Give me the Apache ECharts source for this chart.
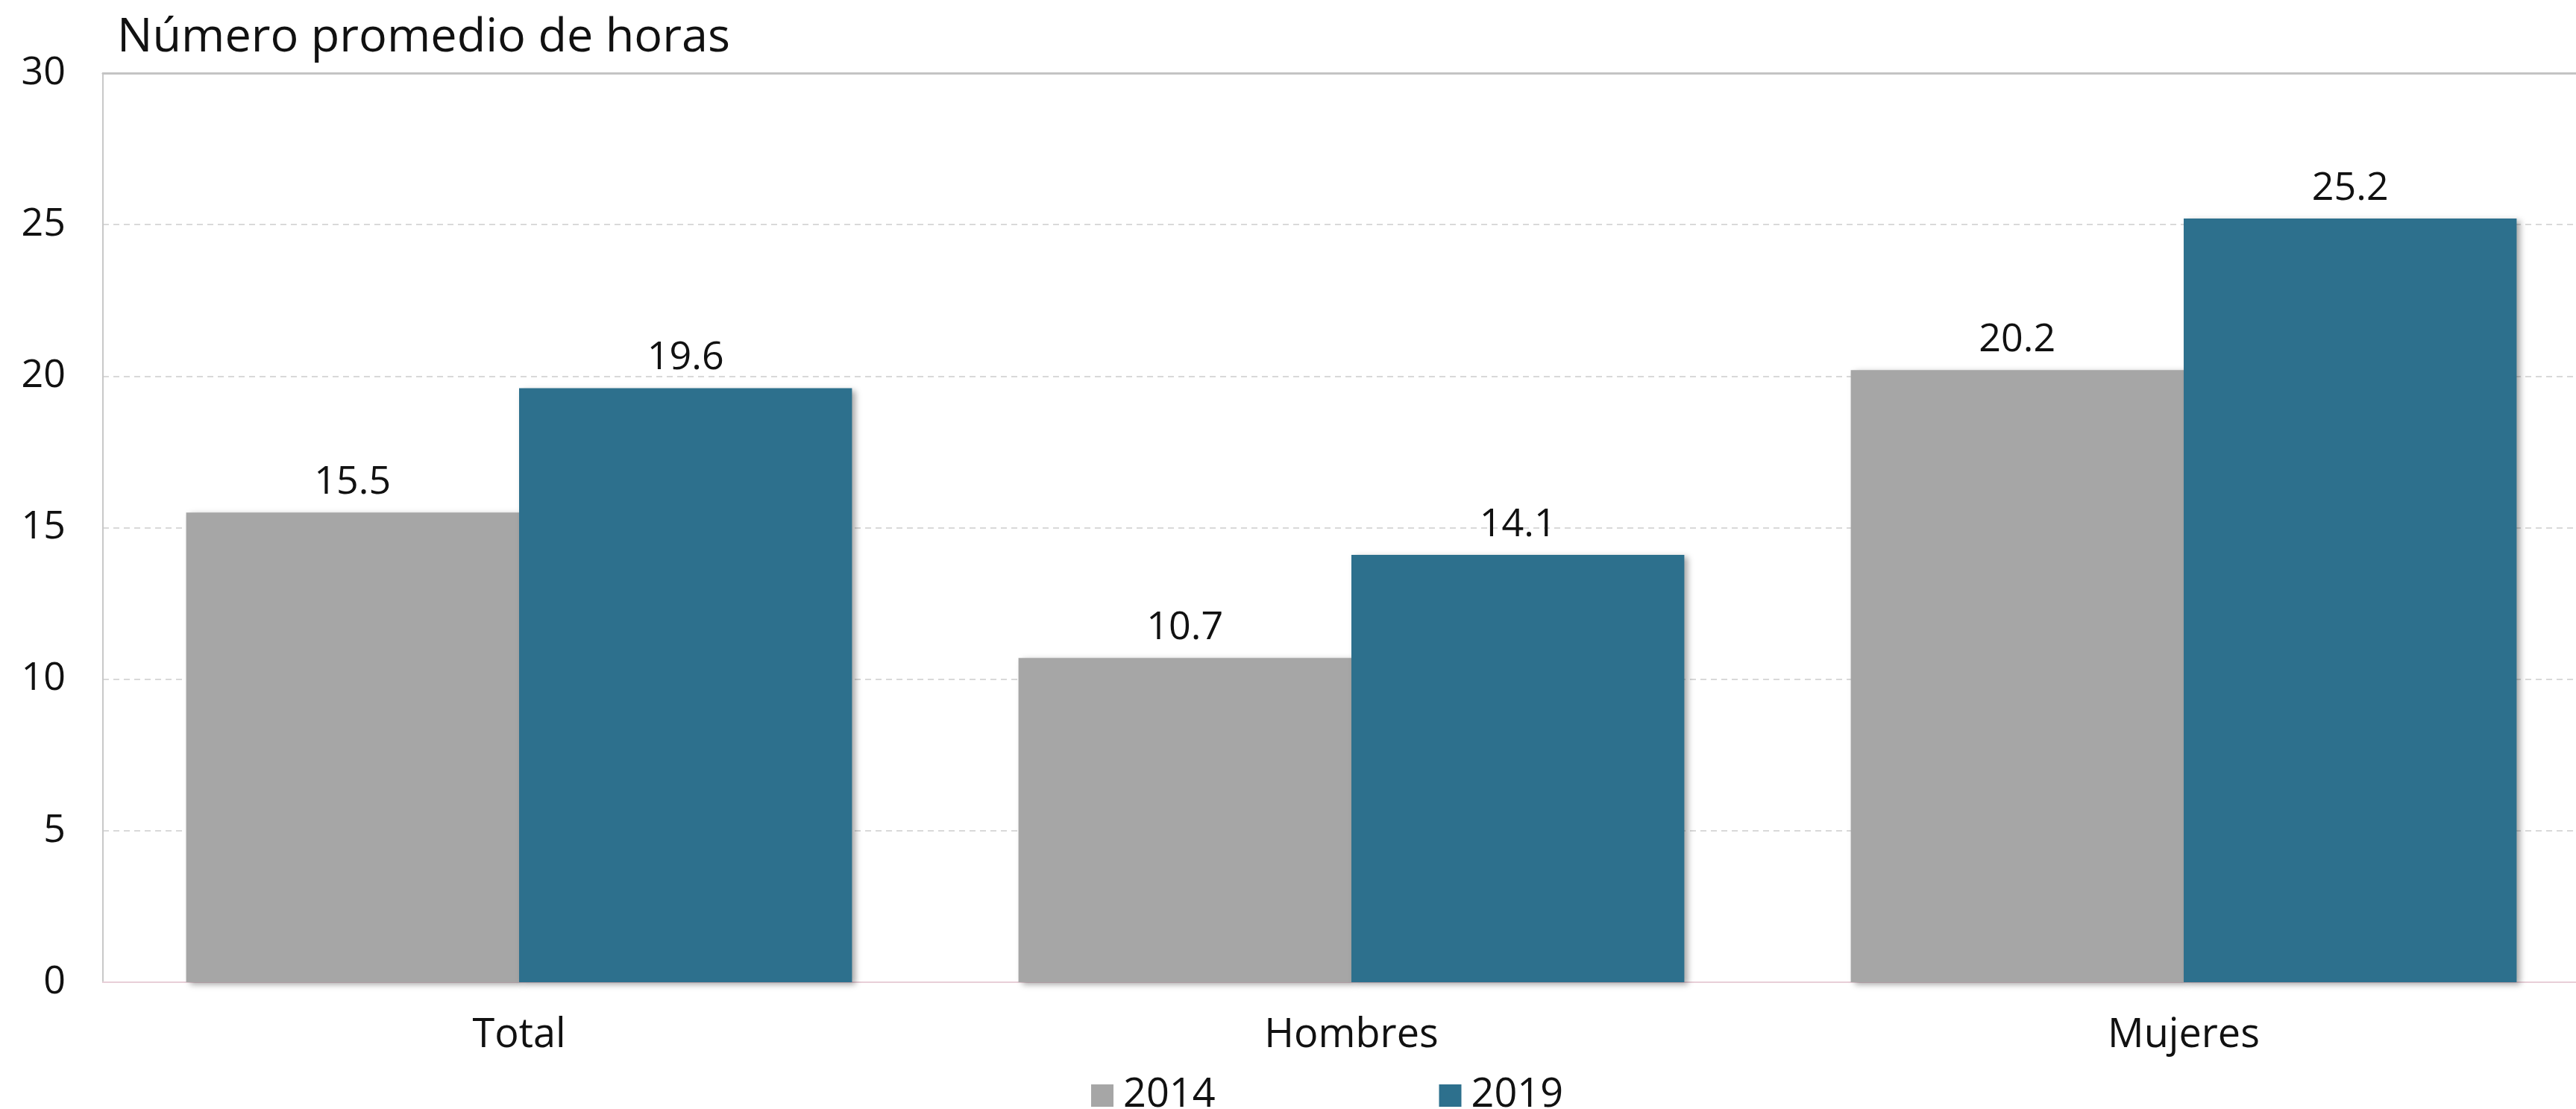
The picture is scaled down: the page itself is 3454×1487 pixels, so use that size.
<!DOCTYPE html>
<html>
<head>
<meta charset="utf-8">
<script src="https://cdn.jsdelivr.net/npm/echarts@6/dist/echarts.min.js"></script>
<style>
html,body{margin:0;padding:0;background:#fff;}
#c{width:3454px;height:1487px;}
</style>
</head>
<body>
<div id="c"></div>
<script>
const categories = ['Total', 'Hombres', 'Mujeres'];
const seriesNames = ['2014', '2019'];
const values2014 = [15.5, 10.7, 20.2];
const values2019 = [19.6, 14.1, 25.2];
const yTicks = [0, 5, 10, 15, 20, 25, 30];
const titleText = 'Número promedio de horas';

const colors = ['#a6a6a6', '#2d708d'];
const labelFont = 'Open Sans';

const chart = echarts.init(document.getElementById('c'), null, {renderer: 'canvas'});

function barSeries(name, data, color) {
  return {
    name: name,
    type: 'bar',
    data: data,
    barGap: '0%',
    barCategoryGap: '20%',
    itemStyle: {
      color: color,
      shadowColor: 'rgba(0,0,0,0.35)',
      shadowBlur: 8,
      shadowOffsetX: 5,
      shadowOffsetY: 3
    },
    label: {
      show: true,
      position: 'top',
      distance: 14,
      color: '#111',
      fontFamily: labelFont,
      fontSize: 52,
      formatter: p => p.value.toFixed(1)
    }
  };
}

chart.setOption({
  animation: false,
  backgroundColor: '#ffffff',
  color: colors,
  title: {
    text: titleText,
    left: 152,
    top: 15,
    textStyle: {fontFamily: labelFont, fontWeight: 'normal', fontSize: 63, color: '#111'}
  },
  legend: {
    data: seriesNames,
    left: 1458,
    top: 1437,
    itemWidth: 30,
    itemHeight: 30,
    itemGap: 300,
    icon: 'rect',
    textStyle: {fontFamily: labelFont, fontSize: 54, color: '#111', padding: [0, 0, 0, 8]}
  },
  grid: {
    left: 138,
    width: 3348,
    top: 98,
    bottom: 170,
    outerBoundsMode: 'none',
    containLabel: false,
    show: true,
    borderColor: '#c8c8c8',
    borderWidth: 2,
    backgroundColor: 'transparent'
  },
  xAxis: [{
    type: 'category',
    data: categories,
    axisLine: {show: true, lineStyle: {color: '#e8cfd8', width: 2}},
    axisTick: {show: false},
    axisLabel: {fontFamily: labelFont, fontSize: 54, color: '#111', margin: 45}
  }, {
    type: 'category',
    position: 'top',
    data: categories,
    axisLine: {show: true, lineStyle: {color: '#c4c4c4', width: 3}},
    axisTick: {show: false},
    axisLabel: {show: false}
  }],
  yAxis: {
    type: 'value',
    min: yTicks[0],
    max: yTicks[yTicks.length - 1],
    interval: yTicks[1] - yTicks[0],
    axisLine: {show: true, lineStyle: {color: '#c8c8c8', width: 2}},
    axisTick: {show: false},
    axisLabel: {fontFamily: labelFont, fontSize: 52, color: '#111', margin: 50},
    splitLine: {show: true, lineStyle: {color: '#d9d9d9', width: 2, type: [8, 6]}}
  },
  series: [
    barSeries(seriesNames[0], values2014, colors[0]),
    barSeries(seriesNames[1], values2019, colors[1])
  ]
});
</script>
</body>
</html>
